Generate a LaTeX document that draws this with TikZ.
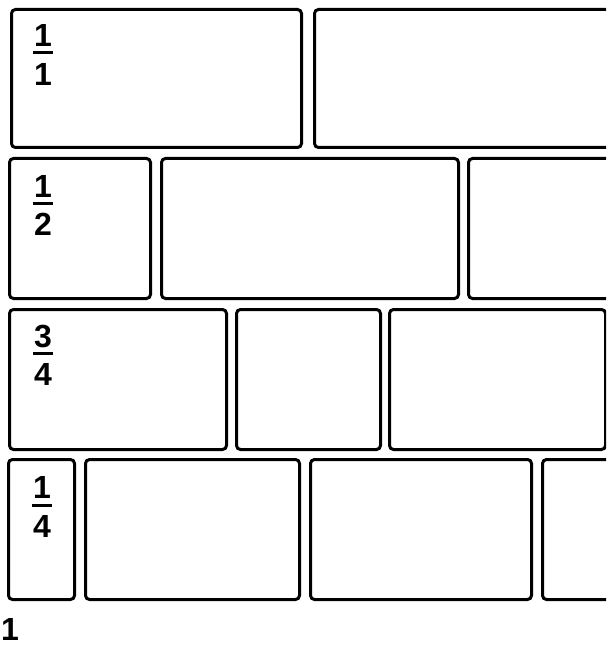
\documentclass[tikz,border=0pt]{standalone}
\usepackage{fontspec}
\setmainfont{Liberation Sans}
\begin{document}
\begin{tikzpicture}[x=1pt,y=-1pt,
  brick/.style={draw=black, line width=3pt, rounded corners=4pt, rectangle, inner sep=0pt, anchor=north west},
  digit/.style={font=\fontsize{32}{32}\selectfont\bfseries, inner sep=0pt, anchor=base},
  fbar/.style={line width=3pt}]
\clip (0,0) rectangle (606,647);
\fill[white] (0,0) rectangle (606,647);
% row 1
\node[brick, minimum width=290pt, minimum height=138pt] (r1a) at (10,8) {};
\node[brick, minimum width=310pt, minimum height=138pt] (r1b) at (313,8) {};
% row 2
\node[brick, minimum width=141pt, minimum height=140pt] (r2a) at (8,157) {};
\node[brick, minimum width=297pt, minimum height=140pt] (r2b) at (160,157) {};
\node[brick, minimum width=160pt, minimum height=140pt] (r2c) at (467,157) {};
% row 3
\node[brick, minimum width=217pt, minimum height=140pt] (r3a) at (8,308) {};
\node[brick, minimum width=144pt, minimum height=140pt] (r3b) at (235,308) {};
\node[brick, minimum width=216pt, minimum height=140pt] (r3c) at (388,308) {};
% row 4
\node[brick, minimum width=66pt, minimum height=140pt] (r4a) at (7,458) {};
\node[brick, minimum width=214pt, minimum height=140pt] (r4b) at (84,458) {};
\node[brick, minimum width=221pt, minimum height=140pt] (r4c) at (309,458) {};
\node[brick, minimum width=100pt, minimum height=140pt] (r4d) at (541,458) {};
% fractions
\node[digit] (n1) at (43,47) {1};
\draw[fbar] (33,53) -- (53,53);
\node[digit] (d1) at (43,86) {1};
\node[digit] (n2) at (43,197) {1};
\draw[fbar] (33,203) -- (53,203);
\node[digit] (d2) at (43,235) {2};
\node[digit] (n3) at (43,347) {3};
\draw[fbar] (33,353) -- (53,353);
\node[digit] (d3) at (43,385) {4};
\node[digit] (n4) at (42,498) {1};
\draw[fbar] (32,505) -- (52,505);
\node[digit] (d4) at (42,537) {4};
% page number
\node[digit] (pg) at (10,640) {1};
\end{tikzpicture}
\end{document}
